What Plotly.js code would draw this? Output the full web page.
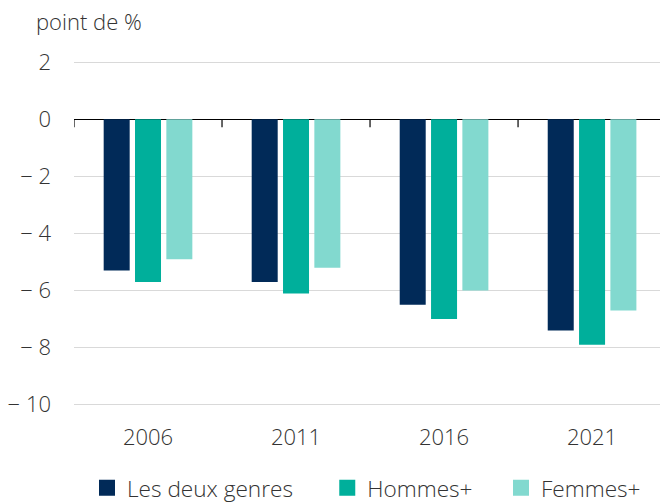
<!DOCTYPE html>
<html>
<head>
<meta charset="utf-8">
<script src="https://cdn.plot.ly/plotly-3.0.1.min.js"></script>
<style>html,body{margin:0;padding:0;background:#fff;}#chart{width:660px;height:504px;}</style>
</head>
<body>
<div id="chart"></div>
<script>
const categories = ["2006", "2011", "2016", "2021"];
const seriesNames = ["Les deux genres", "Hommes+", "Femmes+"];
const lesDeuxGenres = [-5.3, -5.7, -6.5, -7.4];
const hommes = [-5.7, -6.1, -7.0, -7.9];
const femmes = [-4.9, -5.2, -6.0, -6.7];
const yTickVals = [2, 0, -2, -4, -6, -8, -10];
const yTickText = ["2", "0", "\u2212 2", "\u2212 4", "\u2212 6", "\u2212 8", "\u2212 10"];
const colors = ["#012a58", "#00af9b", "#82d9cf"];

const font = {family: "Open Sans, sans-serif", size: 22, color: "#333333", weight: 300};
const legendFont = {family: "Open Sans, sans-serif", size: 22.6, color: "#333333", weight: 300};
const allSeries = [lesDeuxGenres, hommes, femmes];
const data = allSeries.map((vals, i) => ({
  type: "bar",
  name: seriesNames[i],
  x: categories,
  y: vals,
  marker: {color: colors[i], line: {width: 0}},
  showlegend: false,
  hoverinfo: "skip"
}));
// legend entries with larger square symbols
const pads = ["\u00a0\u00a0\u00a0\u00a0\u00a0", "\u00a0\u00a0\u00a0\u00a0", ""];
seriesNames.forEach((n, i) => data.push({
  type: "scatter", mode: "markers", name: n + pads[i],
  x: [null], y: [null],
  marker: {symbol: "square", size: 16, color: colors[i]},
  showlegend: true, hoverinfo: "skip"
}));

// small tick marks on the zero line at category boundaries
const shapes = categories.map((c, i) => ({
  type: "line", xref: "x", yref: "y",
  x0: i - 0.5, x1: i - 0.5, y0: 0, y1: -0.28,
  line: {color: "#000000", width: 1.2}
}));

const layout = {
  width: 660, height: 504,
  margin: {l: 74, r: 0, t: 47.5, b: 84.7},
  paper_bgcolor: "#ffffff", plot_bgcolor: "#ffffff",
  font: font,
  barmode: "group",
  bargap: 0.365,
  bargroupgap: 0.17,
  showlegend: true,
  legend: {
    orientation: "h", xref: "container", yref: "container",
    x: 87/660, xanchor: "left", y: 1 - 488/504, yanchor: "middle",
    font: legendFont, traceorder: "normal", itemwidth: 30
  },
  title: {
    text: "point de %", font: font,
    xref: "container", yref: "container",
    x: 36/660, xanchor: "left", y: 1 - 22/504, yanchor: "middle"
  },
  xaxis: {
    type: "category",
    range: [-0.5, 3.459],
    showgrid: false, zeroline: false, showline: false,
    ticks: "", tickfont: font, ticklabelstandoff: 3
  },
  yaxis: {
    range: [-10.5, 2.5],
    tickvals: yTickVals, ticktext: yTickText,
    showgrid: true, gridcolor: "#d9d9d9", gridwidth: 1,
    zeroline: true, zerolinecolor: "#000000", zerolinewidth: 1.5,
    showline: false, ticks: "", tickfont: font, ticklabelstandoff: 22
  },
  shapes: shapes
};

Plotly.newPlot("chart", data, layout, {displayModeBar: false, staticPlot: true});
</script>
</body>
</html>
